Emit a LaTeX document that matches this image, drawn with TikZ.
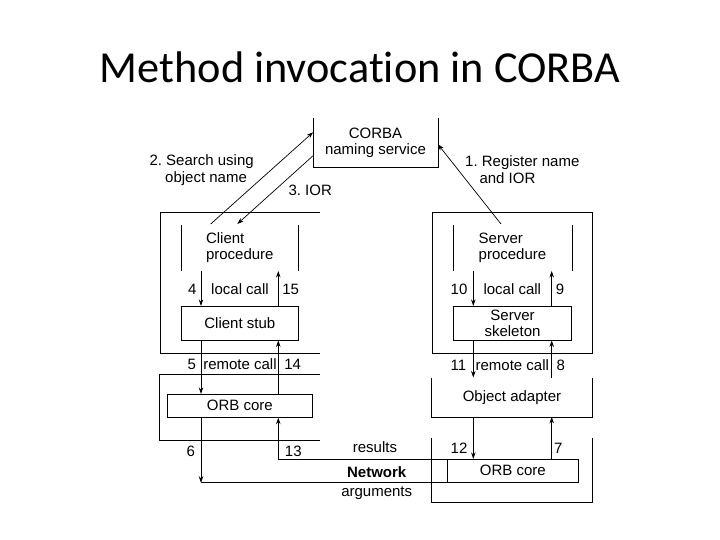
\documentclass[tikz,border=0pt]{standalone}
\usepackage{fontspec}
\newfontfamily\titlefont[Ligatures={NoCommon}]{Carlito}
\newfontfamily\diagfont{Liberation Sans}
\usetikzlibrary{arrows.meta,calc}
\AtBeginDocument{\frenchspacing}
\begin{document}
\begin{tikzpicture}[x=1pt,y=-1pt,
  lbl/.style={font=\diagfont\fontsize{15}{16.4}\selectfont, inner sep=0pt, align=center},
  tl/.style={lbl, anchor=base},
  box/.style={lbl, draw, line width=0.8pt},
  area/.style={lbl},
  ln/.style={line width=0.8pt},
  arr/.style={line width=0.7pt, -{Stealth[length=6.5pt,width=4.5pt]}}]
\useasboundingbox (0,0) rectangle (720,540);

% title
\node[font=\titlefont\fontsize{44.3}{52}\selectfont, inner sep=0pt] (title) at (360,67) {Method invocation in CORBA};

% column coordinates
\coordinate (cl) at (201,0);
\coordinate (cr) at (278.3,0);
\coordinate (sl) at (473.3,0);
\coordinate (sr) at (551.7,0);

% naming service (open top)
\node[area, minimum width=124.4pt, minimum height=48.7pt] (nm) at (375.5,142.7) {CORBA\\naming service};
\draw[ln] (nm.north west) -- (nm.south west) -- (nm.south east) -- (nm.north east);

% client side frames
\draw[ln] (320,212.3) -- (160.7,212.3) -- (160.7,353.3) -- (320,353.3);
\draw[ln] (320,374.3) -- (159.3,374.3) -- (159.3,440.7) -- (320,440.7);

% client procedure
\node[area, align=left, minimum width=117pt, minimum height=45.7pt] (cproc) at (239.8,247.9) {Client\\procedure};
\draw[ln] (cproc.north west) -- (cproc.south west);
\draw[ln] (cproc.north east) -- (cproc.south east);

\node[box, minimum width=117pt, minimum height=33.7pt] (cstub) at (239.8,323.2) {Client stub};
\node[box, minimum width=145pt, minimum height=23pt] (corb) at (239.8,405.8) {ORB core};

% server side frames
\draw[ln] (432.3,212.3) rectangle (592.3,353.3);
\draw[ln] (431.7,438.3) -- (431.7,502.3) -- (592.3,502.3) -- (592.3,438.3);

\node[area, align=left, minimum width=118.4pt, minimum height=45.7pt] (sproc) at (512.5,247.9) {Server\\procedure};
\draw[ln] (sproc.north west) -- (sproc.south west);
\draw[ln] (sproc.north east) -- (sproc.south east);

\node[box, minimum width=118.4pt, minimum height=33.7pt] (sskel) at (512.5,323.2) {Server\\skeleton};

\node[area, minimum width=160.6pt, minimum height=39pt] (oa) at (512,397.2) {Object adapter};
\draw[ln] (oa.north west) -- (oa.south west) -- (oa.south east) -- (oa.north east);

\node[box, minimum width=131pt, minimum height=23pt] (rorb) at (512.8,470.8) {ORB core};

% network
\node[tl, font=\diagfont\bfseries\fontsize{15}{16.4}\selectfont] (net) at (376.7,477) {Network};
\node[tl] (res) at (375,452.5) {results};
\node[tl] (args) at (376.7,496.5) {arguments};

% naming service arrows
\coordinate (s1) at (501,224);
\coordinate (c2) at (210.7,224);
\coordinate (c3) at (237.3,224);
\draw[arr] (s1) -- ($(nm.east)+(0,1.6)$);
\draw[arr] (c2) -- ($(nm.west)+(0,-10.4)$);
\draw[arr] ($(nm.west)+(0,13)$) -- (c3);
\node[lbl, align=left, anchor=west] (l2) at (149.3,170) {2. Search using\\\hspace*{15.7pt}object name};
\node[tl, anchor=base west] (l3) at (288.3,195.4) {3. IOR};
\node[lbl, align=left, anchor=west] (l1) at (465,169.7) {1. Register name\\\hspace*{14.3pt}and IOR};

% client chain
\draw[arr] (cproc.south -| cl) -- (cstub.north -| cl);
\draw[arr] (cstub.south -| cl) -- (corb.north -| cl);
\draw[arr] (corb.south -| cl) -- (rorb.south -| cl);
\draw[ln] (rorb.south -| cl) -- (rorb.south east);
\draw[arr] (rorb.north east) -- (rorb.north -| cr) -- (corb.south -| cr);
\draw[arr] (corb.north -| cr) -- (cstub.south -| cr);
\draw[arr] (cstub.north -| cr) -- (cproc.south -| cr);

% server chain
\draw[arr] (sproc.south -| sl) -- (sskel.north -| sl);
\draw[arr] (sskel.south -| sl) -- (oa.north -| sl);
\draw[arr] (oa.south -| sl) -- (rorb.north -| sl);
\draw[arr] (rorb.north -| sr) -- (oa.south -| sr);
\draw[arr] (oa.north -| sr) -- (sskel.south -| sr);
\draw[arr] (sskel.north -| sr) -- (sproc.south -| sr);

% labels client
\node[tl] (n4) at (192.3,294.4) {4};
\node[tl] (lc1) at (240,294.4) {local call};
\node[tl] (n15) at (290.7,294.4) {15};
\node[tl] (n5) at (191.7,369.7) {5};
\node[tl] (rc1) at (240,369.7) {remote call};
\node[tl] (n14) at (292.7,369.7) {14};
\node[tl] (n6) at (190.7,456.1) {6};
\node[tl] (n13) at (293.3,456.1) {13};

% labels server
\node[tl] (n10) at (459,294.4) {10};
\node[tl] (lc2) at (512.3,294.4) {local call};
\node[tl] (n9) at (560,294.4) {9};
\node[tl] (n11) at (458.3,370.4) {11};
\node[tl] (rc2) at (512.3,370.4) {remote call};
\node[tl] (n8) at (560.7,370.4) {8};
\node[tl] (n12) at (459,453.7) {12};
\node[tl] (n7) at (558.3,453.7) {7};
\end{tikzpicture}
\end{document}
